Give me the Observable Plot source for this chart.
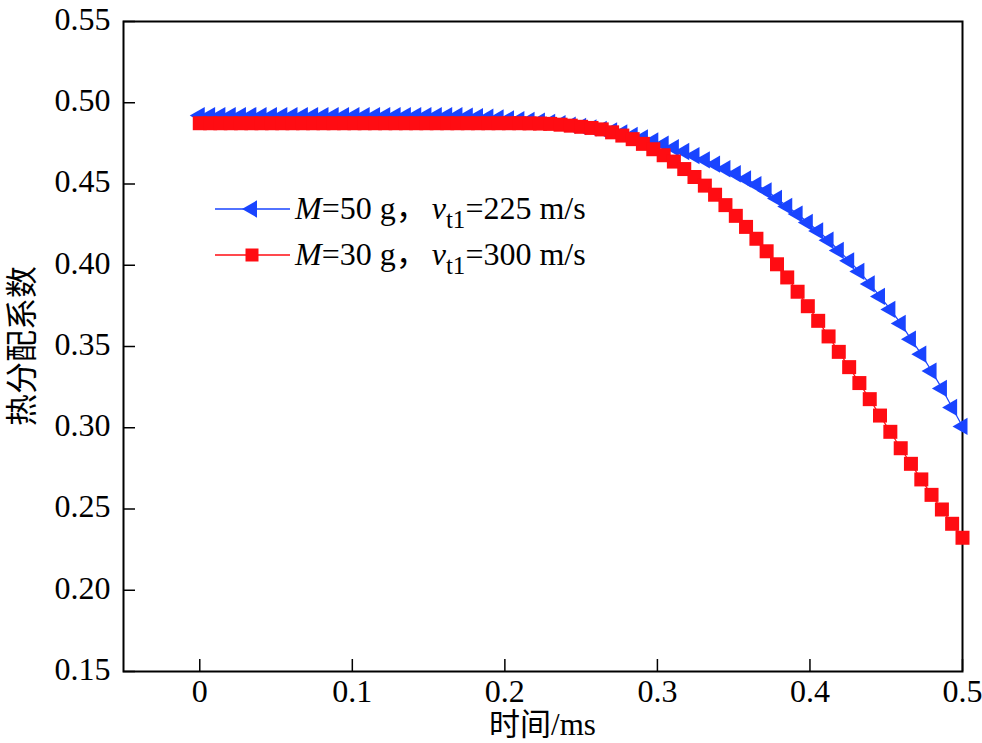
<!DOCTYPE html>
<html>
<head>
<meta charset="utf-8">
<script src="https://cdn.jsdelivr.net/npm/d3@7"></script>
<script src="https://cdn.jsdelivr.net/npm/@observablehq/plot@0.6"></script>
<style>
  html, body { margin: 0; padding: 0; background: #fff; }
  #chart { width: 982px; height: 743px; }
</style>
</head>
<body>
<div id="chart"></div>
<script>
// ---- data ----
const time = [
  0.0000, 0.0068, 0.0135, 0.0203, 0.0270, 0.0338, 0.0405, 0.0473, 0.0541, 0.0608,
  0.0676, 0.0743, 0.0811, 0.0878, 0.0946, 0.1014, 0.1081, 0.1149, 0.1216, 0.1284,
  0.1351, 0.1419, 0.1486, 0.1554, 0.1622, 0.1689, 0.1757, 0.1824, 0.1892, 0.1959,
  0.2027, 0.2095, 0.2162, 0.2230, 0.2297, 0.2365, 0.2432, 0.2500, 0.2568, 0.2635,
  0.2703, 0.2770, 0.2838, 0.2905, 0.2973, 0.3041, 0.3108, 0.3176, 0.3243, 0.3311,
  0.3378, 0.3446, 0.3514, 0.3581, 0.3649, 0.3716, 0.3784, 0.3851, 0.3919, 0.3986,
  0.4054, 0.4122, 0.4189, 0.4257, 0.4324, 0.4392, 0.4459, 0.4527, 0.4595, 0.4662,
  0.4730, 0.4797, 0.4865, 0.4932, 0.5000
];
const seriesM50 = [
  0.4921, 0.4921, 0.4921, 0.4921, 0.4921, 0.4921, 0.4921, 0.4921, 0.4921, 0.4921,
  0.4921, 0.4921, 0.4921, 0.4921, 0.4921, 0.4921, 0.4921, 0.4921, 0.4921, 0.4921,
  0.4921, 0.4921, 0.4921, 0.4921, 0.4921, 0.4920, 0.4918, 0.4915, 0.4911, 0.4906,
  0.4901, 0.4896, 0.4891, 0.4886, 0.4879, 0.4871, 0.4862, 0.4854, 0.4845, 0.4836,
  0.4827, 0.4814, 0.4799, 0.4783, 0.4765, 0.4745, 0.4723, 0.4700, 0.4675, 0.4649,
  0.4622, 0.4594, 0.4563, 0.4531, 0.4496, 0.4458, 0.4411, 0.4362, 0.4315, 0.4263,
  0.4211, 0.4154, 0.4091, 0.4027, 0.3962, 0.3885, 0.3808, 0.3728, 0.3642, 0.3545,
  0.3453, 0.3349, 0.3242, 0.3125, 0.3008
];
const seriesM30 = [
  0.4874, 0.4874, 0.4874, 0.4874, 0.4874, 0.4874, 0.4874, 0.4874, 0.4874, 0.4874,
  0.4874, 0.4874, 0.4874, 0.4874, 0.4874, 0.4874, 0.4874, 0.4874, 0.4874, 0.4874,
  0.4874, 0.4874, 0.4874, 0.4874, 0.4874, 0.4874, 0.4874, 0.4874, 0.4874, 0.4874,
  0.4874, 0.4874, 0.4873, 0.4872, 0.4870, 0.4865, 0.4859, 0.4852, 0.4845, 0.4836,
  0.4818, 0.4798, 0.4776, 0.4747, 0.4714, 0.4677, 0.4638, 0.4592, 0.4543, 0.4490,
  0.4434, 0.4370, 0.4304, 0.4236, 0.4163, 0.4086, 0.4006, 0.3925, 0.3837, 0.3748,
  0.3658, 0.3562, 0.3467, 0.3373, 0.3275, 0.3176, 0.3075, 0.2975, 0.2874, 0.2778,
  0.2682, 0.2587, 0.2497, 0.2409, 0.2323
];
const xTicks = [0, 0.1, 0.2, 0.3, 0.4, 0.5];
const yTicks = [0.15, 0.20, 0.25, 0.30, 0.35, 0.40, 0.45, 0.50, 0.55];
const xLabel = "时间/ms";
const yLabel = "热分配系数";
const legendItems = [
  {mass: "50", speed: "225", color: "#1944ff", symbol: "triangle"},
  {mass: "30", speed: "300", color: "#ff0c12", symbol: "square"}
];

// ---- build ----
const W = 982, H = 743;
const mL = 123, mR = 20, mT = 21, mB = 72;
const innerW = W - mL - mR, innerH = H - mT - mB;
const blue = legendItems[0].color, red = legendItems[1].color;

const dataM50 = time.map((t, i) => ({t, v: seriesM50[i]}));
const dataM30 = time.map((t, i) => ({t, v: seriesM30[i]}));

const serif = "Liberation Serif, Times New Roman, Noto Sans CJK SC, serif";
const triR = Math.sqrt(5 * 5 * Math.sqrt(3) * 3 / Math.PI);
const sqR = Math.sqrt(14 * 14 / Math.PI);
const fmtY = d3.format(".2f");

const chart = Plot.plot({
  width: W, height: H,
  marginLeft: mL, marginRight: mR, marginTop: mT, marginBottom: mB,
  style: {background: "#fff", color: "#000", overflow: "visible"},
  x: {domain: [-0.05, 0.5], axis: null},
  y: {domain: [0.15, 0.55], axis: null},
  marks: [
    Plot.frame({stroke: "#000", strokeWidth: 2}),
    Plot.tickX(xTicks, {x: d => d, insetTop: innerH - 12, stroke: "#000", strokeWidth: 1.5}),
    Plot.tickY(yTicks, {y: d => d, insetRight: innerW - 12, stroke: "#000", strokeWidth: 1.5}),
    Plot.text(xTicks, {x: d => d, text: d => String(d), frameAnchor: "bottom", lineAnchor: "top", dy: 8,
      fontFamily: serif, fontSize: 32, fill: "#000"}),
    Plot.text(yTicks, {y: d => d, text: d => fmtY(d), frameAnchor: "left", textAnchor: "end", dx: -13, dy: -2,
      fontFamily: serif, fontSize: 32, fill: "#000"}),
    Plot.line(dataM50, {x: "t", y: "v", stroke: blue, strokeWidth: 1.2}),
    Plot.dot(dataM50, {x: "t", y: "v", symbol: "triangle", rotate: -90, r: triR, fill: blue, stroke: "none"}),
    Plot.line(dataM30, {x: "t", y: "v", stroke: red, strokeWidth: 1.2}),
    Plot.dot(dataM30, {x: "t", y: "v", symbol: "square", r: sqR, fill: red, stroke: "none"})
  ]
});
document.getElementById("chart").appendChild(chart);

const svg = d3.select(chart);

// axis titles
svg.append("text")
  .attr("x", mL + innerW / 2).attr("y", 735)
  .attr("text-anchor", "middle")
  .attr("font-family", serif).attr("font-size", 31).attr("fill", "#000")
  .text(xLabel);
svg.append("text")
  .attr("transform", `translate(33,${mT + innerH / 2}) rotate(-90)`)
  .attr("text-anchor", "middle")
  .attr("font-family", serif).attr("font-size", 32).attr("fill", "#000")
  .text(yLabel);

// legend
const lg = svg.append("g");
legendItems.forEach((it, k) => {
  const cy = 209 + k * 46;
  const g = lg.append("g");
  g.append("line").attr("x1", 215).attr("x2", 290).attr("y1", cy).attr("y2", cy)
    .attr("stroke", it.color).attr("stroke-width", 1.5);
  const sym = it.symbol === "triangle"
    ? d3.symbol(d3.symbolTriangle, 5 * 5 * Math.sqrt(3) * 3)
    : d3.symbol(d3.symbolSquare, 13 * 13);
  g.append("path").attr("d", sym())
    .attr("transform", `translate(252,${cy})` + (it.symbol === "triangle" ? " rotate(-90)" : ""))
    .attr("fill", it.color);
  const t = g.append("text").attr("x", 295).attr("y", cy + 10)
    .attr("text-anchor", "start")
    .attr("font-family", serif).attr("font-size", 32).attr("fill", "#000");
  t.append("tspan").attr("font-style", "italic").text("M");
  t.append("tspan").text(`=${it.mass} g，`);
  t.append("tspan").attr("font-style", "italic").attr("dx", 4).text("v");
  t.append("tspan").attr("font-size", 25).attr("dy", 9).text("t1");
  t.append("tspan").attr("dy", -9).text(`=${it.speed} m/s`);
});
</script>
</body>
</html>
